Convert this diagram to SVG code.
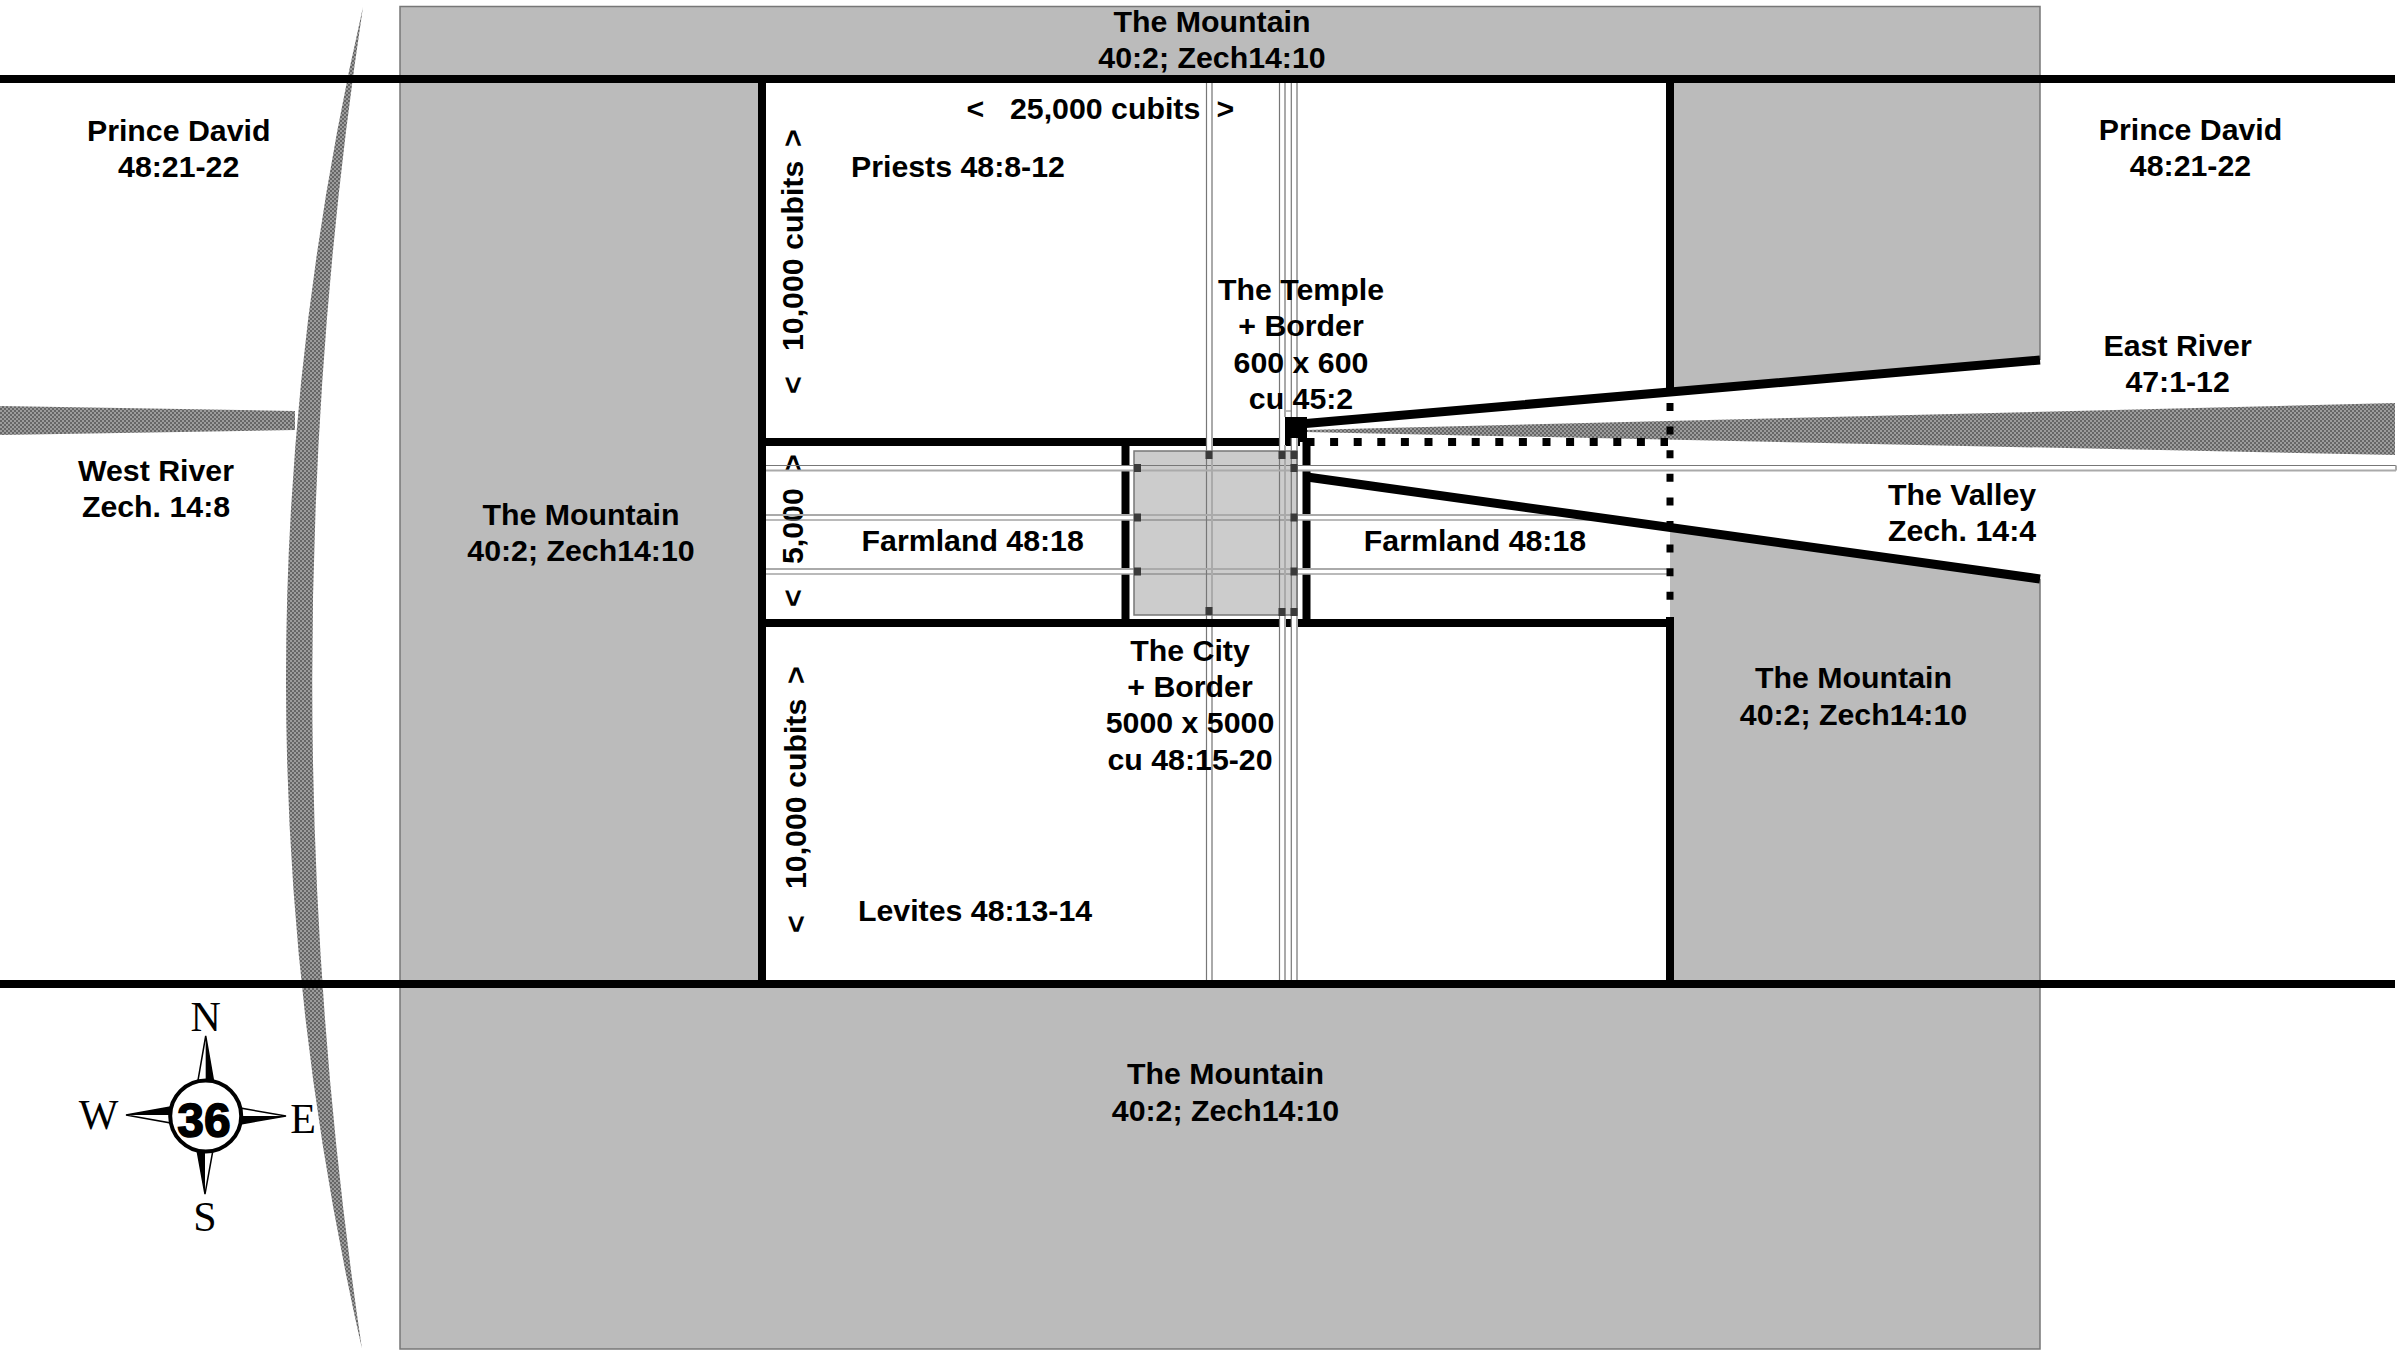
<svg xmlns="http://www.w3.org/2000/svg" width="2398" height="1350" viewBox="0 0 2398 1350">
<defs>
<pattern id="dither" width="4" height="4" patternUnits="userSpaceOnUse"><rect width="4" height="4" fill="#9c9c9c"/><rect width="2" height="2" fill="#666"/><rect x="2" y="2" width="2" height="2" fill="#666"/></pattern>
</defs>
<style>
text{font-family:"Liberation Sans",Arial,sans-serif;font-weight:700;font-size:30.300px;fill:#000;white-space:pre}
.m{text-anchor:middle}
.l{text-anchor:start}
.w{font-family:"Liberation Serif","Times New Roman",serif;font-weight:400;font-size:42px;text-anchor:middle}
.river{fill:url(#dither)}
.wall{stroke:#000;stroke-width:8;fill:none}
.slope{stroke:#000;stroke-width:9;fill:none}
.rw{stroke:#fff;stroke-width:6;fill:none}
.rd{stroke:#777;stroke-width:1.200;fill:none}
.rl{stroke:#aaa;stroke-width:2;fill:none}
.gate{fill:#3a3a3a}
</style>
<rect id="mountain-ground" x="400" y="6.500" width="1640" height="1342.500" fill="#bbb" stroke="#777" stroke-width="1.500"/>
<polygon id="valley" points="762,79 1670,79 1670,391 2042,360 2042,579 1670,527 1670,984 762,984" fill="#fff"/>
<g id="west-river">
<path class="river" d="M363,7 Q209.500,678 362,1349 Q262,678 363,7Z"/>
<polygon class="river" points="0,406 295,411 295,430 0,435"/>
</g>
<polygon id="east-river" class="river" points="1305,430 2395,403 2395,455 1305,432"/>
<g id="city"><rect x="1134" y="451" width="163" height="164" fill="#ccc"/></g>
<g id="connectors">
<g id="walls">
<path class="wall" d="M0,79H2395M762,79V984M762,442H1300M762,623H1670M1125.500,442V623M1306.500,442V623M1670,79V390M1670,617V984"/>
<polygon points="1285,417 1307,417 1307,442 1285,442" fill="#000"/>
</g>
<g id="road-fill">
<path class="rw" d="M1209,83V451M1209,615V980M1282,83V451M1282,615V980M1294,438V451M1294,615V980M1294,83V417M766,468H1134M766,517.500H1134M766,571.500H1134M1297,468H2396M1297,517.500H1590M1297,571.500H1667"/>
</g>
</g>
<g id="n-dim-5000"><text transform="translate(803,0) rotate(-90)" x="-607">&lt;<tspan x="-564">5,000</tspan><tspan x="-472">&gt;</tspan></text></g>
<g id="connectors-edges">
<g id="road-edges">
<path class="rd" d="M1206.500,83V980M1279.500,83V980M1291.300,83V417M1291.300,438V980M766,465.500H2396M766,520H1590M766,574H1667M1285,411H1291.300"/>
<path class="rl" d="M1212,83V980M1285,83V417M1285,445V980M1297,83V417M1297,438V980M766,470.500H2396M766,515H1590M766,569H1667M2396,465.500V470.500"/>
<rect x="1134" y="451" width="163" height="164" fill="none" stroke="#777" stroke-width="1.500"/>
</g>
<path id="outer-south" class="wall" d="M0,984H2395M1203,623H1215"/>
<path id="slopes" class="slope" d="M1300,424L2040,360M1307,477L2040,579"/>
<g id="gates">
<rect class="gate" x="1205.500" y="451" width="7" height="8"/><rect class="gate" x="1278.500" y="451" width="7" height="8"/><rect class="gate" x="1290.500" y="451" width="7" height="8"/>
<rect class="gate" x="1134" y="464" width="7" height="8"/><rect class="gate" x="1290.500" y="464" width="7" height="8"/>
<rect class="gate" x="1134" y="513.500" width="7" height="8"/><rect class="gate" x="1290.500" y="513.500" width="7" height="8"/>
<rect class="gate" x="1134" y="567.500" width="7" height="8"/><rect class="gate" x="1290.500" y="567.500" width="7" height="8"/>
<rect class="gate" x="1205.500" y="607" width="7" height="8"/><rect class="gate" x="1278.500" y="608" width="7" height="8"/><rect class="gate" x="1290.500" y="608" width="7" height="8"/>
</g>
<path id="border-dots-h" d="M1306.500,442H1668" stroke="#000" stroke-width="8" stroke-dasharray="8 15.600" fill="none"/>
<path id="border-dots-v" d="M1670,403V605" stroke="#000" stroke-width="7" stroke-dasharray="8 15.600" fill="none"/>
</g>
<g id="compass">
<polygon points="205.700,1036 197.700,1082 213.700,1082" fill="#fff" stroke="#000" stroke-width="1.500"/><polygon points="205.700,1036 205.700,1082 213.700,1082" fill="#000"/>
<polygon points="286,1116 240,1108 240,1124" fill="#fff" stroke="#000" stroke-width="1.500"/><polygon points="286,1116 240,1116 240,1124" fill="#000"/>
<polygon points="205,1194 197,1150 213,1150" fill="#fff" stroke="#000" stroke-width="1.500"/><polygon points="205,1194 205,1150 197,1150" fill="#000"/>
<polygon points="126,1115 171,1107 171,1123" fill="#fff" stroke="#000" stroke-width="1.500"/><polygon points="126,1115 171,1115 171,1107" fill="#000"/>
<circle cx="205.700" cy="1116" r="35.500" fill="#fff" stroke="#000" stroke-width="4"/>
<text class="m" x="204" y="1137" style="font-size:48px;stroke:#000;stroke-width:1.500">36</text>
<text class="w" x="205.700" y="1031">N</text><text class="w" x="98.700" y="1129">W</text><text class="w" x="303" y="1133">E</text><text class="w" x="205" y="1231">S</text>
</g>
<g id="n-top"><text class="m" x="1212" y="32">The Mountain</text><text class="m" x="1212" y="68">40:2; Zech14:10</text></g>
<g id="n-prince-w"><text class="m" x="178.700" y="141">Prince David</text><text class="m" x="178.700" y="177">48:21-22</text></g>
<g id="n-prince-e"><text class="m" x="2190.500" y="139.500">Prince David</text><text class="m" x="2190.500" y="176">48:21-22</text></g>
<g id="n-width"><text x="966.500" y="119">&lt;<tspan x="1010">25,000 cubits</tspan><tspan x="1216.500">&gt;</tspan></text></g>
<g id="n-priests"><text class="l" x="851" y="177">Priests 48:8-12</text>
<text transform="translate(803,0) rotate(-90)" x="-394">&lt;<tspan x="-351">10,000 cubits</tspan><tspan x="-147">&gt;</tspan></text></g>
<g id="n-temple"><text class="m" x="1301" y="300">The Temple</text><text class="m" x="1301" y="336">+ Border</text><text class="m" x="1301" y="373">600 x 600</text><text class="m" x="1301" y="409">cu 45:2</text></g>
<g id="n-west-river"><text class="m" x="156" y="481">West River</text><text class="m" x="156" y="517">Zech. 14:8</text></g>
<g id="n-mountain-w"><text class="m" x="581" y="525">The Mountain</text><text class="m" x="581" y="561">40:2; Zech14:10</text></g>
<g id="n-farm-w"><text class="m" x="972.700" y="551">Farmland 48:18</text></g>
<g id="n-farm-e"><text class="m" x="1475" y="551">Farmland 48:18</text></g>
<g id="n-city"><text class="m" x="1190" y="661">The City</text><text class="m" x="1190" y="697">+ Border</text><text class="m" x="1190" y="733">5000 x 5000</text><text class="m" x="1190" y="770">cu 48:15-20</text></g>
<g id="n-levites"><text class="l" x="858" y="921">Levites 48:13-14</text>
<text transform="translate(806,0) rotate(-90)" x="-933">&lt;<tspan x="-889">10,000 cubits</tspan><tspan x="-684">&gt;</tspan></text></g>
<g id="n-mountain-e"><text class="m" x="1853.500" y="688">The Mountain</text><text class="m" x="1853.500" y="725">40:2; Zech14:10</text></g>
<g id="n-mountain-s"><text class="m" x="1225.500" y="1084">The Mountain</text><text class="m" x="1225.500" y="1121">40:2; Zech14:10</text></g>
<g id="n-east-river"><text class="m" x="2177.600" y="356">East River</text><text class="m" x="2177.600" y="392">47:1-12</text></g>
<g id="n-valley"><text class="m" x="1962" y="505">The Valley</text><text class="m" x="1962" y="541">Zech. 14:4</text></g>
</svg>
